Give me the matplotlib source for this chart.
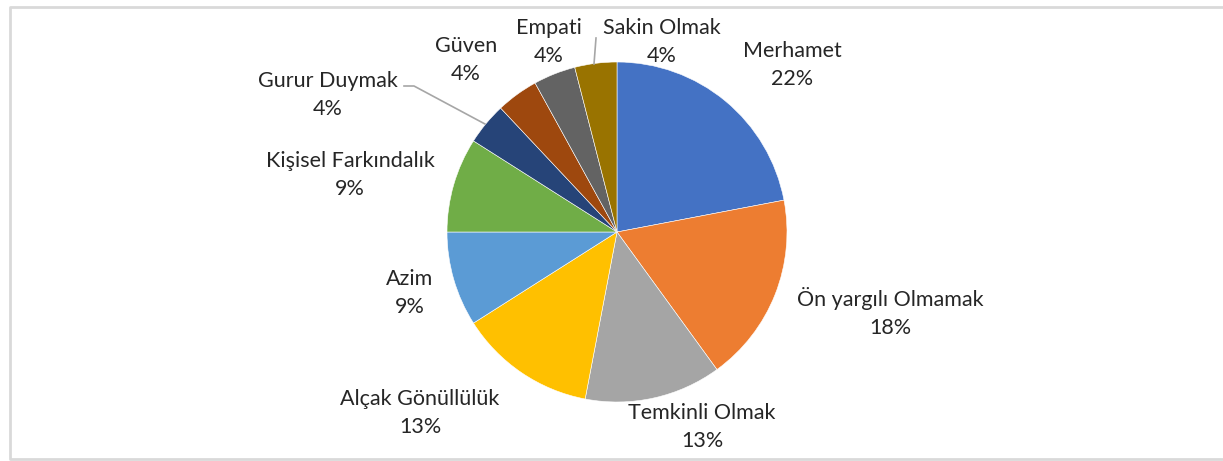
import matplotlib.pyplot as plt

# share of answers per category (%)
labels = ['Merhamet', 'Ön yargılı Olmamak', 'Temkinli Olmak', 'Alçak Gönüllülük',
          'Azim', 'Kişisel Farkındalık', 'Gurur Duymak', 'Güven', 'Empati', 'Sakin Olmak']
values = [22, 18, 13, 13, 9, 9, 4, 4, 4, 4]
colors = ['#4472C4', '#ED7D31', '#A5A5A5', '#FFC000', '#5B9BD5',
          '#70AD47', '#264478', '#9E480E', '#636363', '#997300']

W, H = 1223, 461
fig = plt.figure(figsize=(W / 100, H / 100), dpi=100)
ax = fig.add_axes([0, 0, 1, 1])

cx, cy, r = 617, H - 232, 170
ax.pie(values, colors=colors, startangle=90, counterclock=False,
       center=(cx, cy), radius=r, frame=True,
       wedgeprops=dict(linewidth=0.4, edgecolor='white'))
ax.set_xlim(0, W)
ax.set_ylim(0, H)
ax.axis('off')

# label positions in pixels (x, y from top)
label_pos = [(792, 65), (890, 313), (702, 427), (420, 413), (410, 293),
             (350, 175), (328, 95), (466, 60), (549, 42), (662, 42)]
for lab, v, (x, y) in zip(labels, values, label_pos):
    ax.text(x, H - y, f'{lab}\n{v}%', ha='center', va='center',
            fontsize=15.5, family='Lato', color='#262626', linespacing=1.5)

# leader lines
ax.plot([404, 414, 485], [H - 86, H - 86, H - 124], color='#A6A6A6', lw=1.2)
ax.plot([596, 594], [H - 38, H - 64], color='#A6A6A6', lw=1.2)

# chart border (left, top, bottom)
ax.plot([W + 5, 9.5, 9.5, W + 5], [H - 7, H - 7, H - 459, H - 459],
        color='#D9D9D9', lw=2, clip_on=False)

fig.savefig('out.png', dpi=100)
